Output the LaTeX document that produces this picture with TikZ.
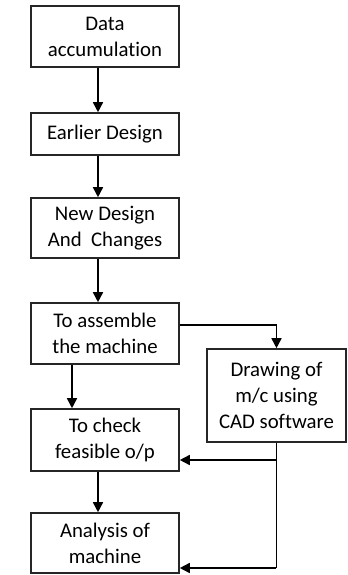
\documentclass[tikz,border=0pt]{standalone}
\usepackage{fontspec}
\setmainfont[Ligatures=NoCommon]{Carlito}
\usetikzlibrary{arrows.meta}
\begin{document}
\begin{tikzpicture}[x=0.5pt,y=-0.5pt,
  box/.style={draw=black!85, line width=0.8pt, minimum width=74pt, align=center,
    inner sep=0pt, font=\fontsize{10.4pt}{13pt}\selectfont},
  arr/.style={line width=0.8pt, -{Triangle[width=5pt,length=5pt]}},
  ln/.style={line width=0.8pt}]
\useasboundingbox (0,0) rectangle (348,575);
\node[box, minimum height=30.5pt] (b1) at (105,36.5) {Data\\accumulation};
\node[box, minimum height=21pt] (b2) at (105,134) {Earlier Design};
\node[box, minimum height=30pt] (b3) at (105,228) {New Design\\And\ \ Changes};
\node[box, minimum height=30.5pt] (b4) at (105,333.5) {To assemble\\the machine};
\node[box, minimum width=69.5pt, minimum height=46.5pt] (b5) at (276.5,395.5) {Drawing of\\m/c using\\CAD software};
\node[box, minimum height=31pt] (b6) at (105,440) {To check\\feasible o/p};
\node[box, minimum height=30pt] (b7) at (105,543) {Analysis of\\machine};
\draw[arr] ([xshift=-3.5pt]b1.south) -- ([xshift=-3.5pt]b2.north);
\draw[arr] ([xshift=-3.5pt]b2.south) -- ([xshift=-3.5pt]b3.north);
\draw[arr] ([xshift=-3.5pt]b3.south) -- ([xshift=-3.5pt]b4.north);
\draw[arr] ([xshift=-16.5pt]b4.south) -- ([xshift=-16.5pt]b6.north);
\draw[arr] ([xshift=-3.5pt]b6.south) -- ([xshift=-3.5pt]b7.north);
\draw[arr] ([yshift=4.25pt]b4.east) -| (b5.north);
\coordinate (j1) at ([yshift=-10pt]b6.east -| b5.south);
\coordinate (j2) at ([yshift=-12.5pt]b7.east -| b5.south);
\draw[ln] (b5.south) -- (j2);
\draw[arr] (j1) -- ([yshift=-10pt]b6.east);
\draw[arr] (j2) -- ([yshift=-12.5pt]b7.east);
\end{tikzpicture}
\end{document}
